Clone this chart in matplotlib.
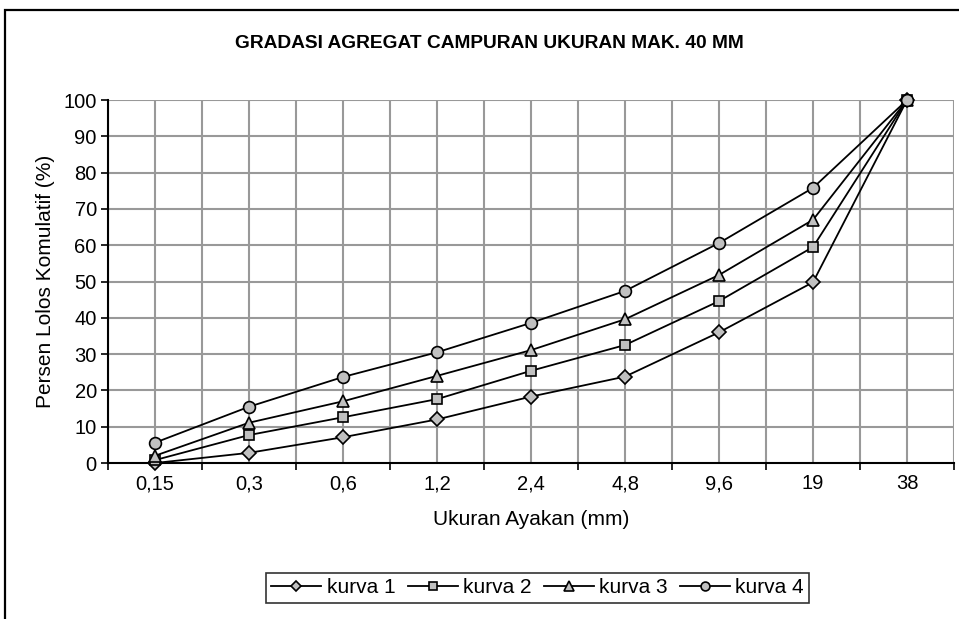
import numpy as np
import matplotlib.pyplot as plt
from matplotlib import patches

# ukuran ayakan (mm) dan persen lolos kumulatif
sieve = ['0,15', '0,3', '0,6', '1,2', '2,4', '4,8', '9,6', '19', '38']
kurva1 = [0, 2.8, 7.1, 12.0, 18.3, 23.8, 36.0, 49.8, 100]
kurva2 = [0.8, 7.7, 12.6, 17.6, 25.4, 32.5, 44.6, 59.5, 100]
kurva3 = [2.0, 11.1, 17.0, 24.0, 31.1, 39.6, 51.8, 67.0, 100]
kurva4 = [5.6, 15.5, 23.7, 30.5, 38.6, 47.4, 60.6, 75.8, 100]

series = [('kurva 1', kurva1, 'D', 7), ('kurva 2', kurva2, 's', 7.5),
          ('kurva 3', kurva3, '^', 9), ('kurva 4', kurva4, 'o', 8.5)]

plt.rcParams['font.family'] = 'Liberation Sans'
fs = 14.5

fig = plt.figure(figsize=(9.59, 6.19), dpi=100)
ax = fig.add_axes([0.1126, 0.252, 0.8822, 0.5864])

x = np.arange(len(sieve))
for name, vals, mk, ms in series:
    ax.plot(x, vals, color='black', lw=1.3, marker=mk, ms=ms,
            mfc='#C0C0C0', mec='black', mew=1.2, label=name, zorder=3, clip_on=False)

ax.set_xlim(-0.5, len(sieve) - 0.5)
ax.set_ylim(0, 100)
ax.set_yticks(np.arange(0, 101, 10))
ax.set_xticks(np.arange(-0.5, len(sieve), 1.0))
ax.set_xticklabels([])
ax.set_xticks(x, minor=True)
ax.set_xticklabels(sieve, minor=True)
ax.tick_params(axis='x', which='minor', length=0, labelsize=fs, pad=8)
ax.tick_params(axis='x', which='major', length=5, width=1.2, direction='out')
ax.tick_params(axis='y', length=5, width=1.2, direction='out', labelsize=fs, pad=3)

# grid di setiap setengah kategori
for gx in np.arange(-0.5, len(sieve), 0.5):
    ax.axvline(gx, color='#999999', lw=1.5, zorder=1)
for gy in np.arange(10, 101, 10):
    ax.axhline(gy, color='#999999', lw=1.5, zorder=1)

ax.spines['top'].set_visible(False)
ax.spines['right'].set_visible(False)
ax.spines['left'].set_linewidth(1.5)
ax.spines['bottom'].set_linewidth(1.5)
ax.spines['left'].set_zorder(2)

ax.set_ylabel('Persen Lolos Komulatif (%)', fontsize=15, labelpad=6)
ax.set_xlabel('Ukuran Ayakan (mm)', fontsize=15, labelpad=12)
fig.text(0.51, 0.929, 'GRADASI AGREGAT CAMPURAN UKURAN MAK. 40 MM',
         ha='center', va='center', fontsize=13.8, fontweight='bold')

leg = ax.legend(loc='center', bbox_to_anchor=(0.508, -0.344), ncol=4,
                frameon=True, fancybox=False, edgecolor='black', fontsize=15,
                handlelength=2.4, handletextpad=0.25, columnspacing=0.6,
                borderpad=0.25, borderaxespad=0, markerscale=0.75)
leg.get_frame().set_linewidth(1.2)

# bingkai luar
fig.patches.append(patches.Rectangle((5 / 959, -0.1), 1.2, (609 / 619) + 0.1,
                                     transform=fig.transFigure, fill=False,
                                     edgecolor='black', lw=1.6))

fig.savefig('out.png', dpi=100)
